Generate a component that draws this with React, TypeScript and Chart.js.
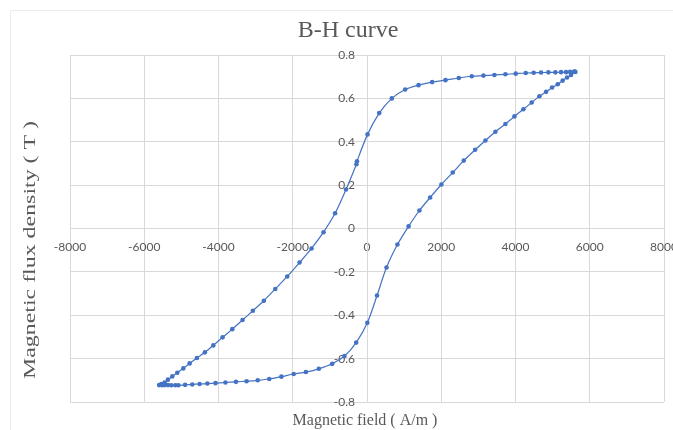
import React, { useEffect, useRef } from "react";
import { Chart, registerables } from "chart.js";

Chart.register(...registerables);

const CHART_TITLE = "B-H curve";
const X_TITLE = "Magnetic field ( A/m )";
const Y_TITLE = "Magnetic flux density ( T )";

const xTicks = [-8000, -6000, -4000, -2000, 0, 2000, 4000, 6000, 8000];
const yTicks = [-0.8, -0.6, -0.4, -0.2, 0, 0.2, 0.4, 0.6, 0.8];

// Upper branch: from the positive tip back to the negative tip
const upperH = [5613, 5580, 5470, 5362, 5227, 5074, 4886, 4689, 4490, 4275, 4006, 3728, 3432, 3136, 2822, 2472, 2113, 1755, 1387, 1028, 668, 330, 15, -270, -285, -565, -860, -1171, -1494, -1817, -2148, -2471, -2778, -3074, -3352, -3629, -3890, -4140, -4366, -4582, -4778, -4948, -5110, -5245, -5362, -5451, -5540, -5600];
const upperB = [0.722, 0.723, 0.722, 0.721, 0.721, 0.72, 0.72, 0.719, 0.718, 0.717, 0.714, 0.711, 0.708, 0.705, 0.702, 0.694, 0.684, 0.675, 0.661, 0.641, 0.6, 0.532, 0.434, 0.31, 0.296, 0.18, 0.07, -0.017, -0.092, -0.157, -0.221, -0.279, -0.333, -0.379, -0.422, -0.464, -0.502, -0.539, -0.571, -0.597, -0.622, -0.645, -0.665, -0.682, -0.697, -0.71, -0.717, -0.722];

// Lower branch: from the negative tip up to the positive tip
const lowerH = [-5520, -5451, -5362, -5271, -5163, -5080, -4900, -4706, -4509, -4300, -4080, -3813, -3530, -3244, -2944, -2634, -2306, -1975, -1646, -1297, -937, -606, -291, 9, 270, 525, 820, 1120, 1413, 1701, 2003, 2310, 2606, 2913, 3190, 3459, 3728, 3971, 4213, 4437, 4644, 4824, 4985, 5137, 5271, 5389, 5497, 5586];
const lowerB = [-0.723, -0.722, -0.722, -0.723, -0.723, -0.723, -0.721, -0.719, -0.717, -0.715, -0.713, -0.71, -0.707, -0.704, -0.7, -0.694, -0.683, -0.671, -0.662, -0.647, -0.624, -0.588, -0.526, -0.435, -0.309, -0.18, -0.074, 0.01, 0.083, 0.143, 0.203, 0.258, 0.313, 0.363, 0.406, 0.446, 0.482, 0.517, 0.55, 0.581, 0.61, 0.63, 0.65, 0.665, 0.682, 0.696, 0.708, 0.7235];

const TEXT_COLOR = "#595959";
const GRID_COLOR = "#d9d9d9";
const SERIES_COLOR = "#4472C4";
const TICK_FONT = '12px "Lato"';

const formatY = (v: number) => String(Math.round(v * 10) / 10);

const textPlugin = {
  id: "bhText",
  beforeDraw(chart: any) {
    const ctx = chart.ctx;
    ctx.save();
    ctx.fillStyle = "#ffffff";
    ctx.fillRect(0, 0, chart.width, chart.height);
    ctx.strokeStyle = "#ebebeb";
    ctx.lineWidth = 1;
    ctx.beginPath();
    ctx.moveTo(10.5, chart.height);
    ctx.lineTo(10.5, 10.5);
    ctx.lineTo(chart.width, 10.5);
    ctx.stroke();
    ctx.restore();
  },
  beforeDatasetsDraw(chart: any) {
    const ctx = chart.ctx;
    const xs = chart.scales.x;
    const ys = chart.scales.y;
    const axisX = xs.getPixelForValue(0);
    ctx.save();
    ctx.fillStyle = TEXT_COLOR;
    ctx.font = TICK_FONT;
    ctx.textAlign = "right";
    ctx.textBaseline = "middle";
    yTicks.forEach((v) => {
      ctx.fillText(formatY(v), axisX - 12, ys.getPixelForValue(v));
    });
    ctx.restore();
  },
  afterDraw(chart: any) {
    const ctx = chart.ctx;
    ctx.save();
    ctx.fillStyle = TEXT_COLOR;
    ctx.textAlign = "center";
    ctx.textBaseline = "alphabetic";
    ctx.font = '24px "Liberation Serif"';
    ctx.fillText(CHART_TITLE, 348, 37);
    ctx.font = '16px "Liberation Serif"';
    ctx.fillText(X_TITLE, 365, 425);
    ctx.translate(35, 250);
    ctx.rotate(-Math.PI / 2);
    const w = ctx.measureText(Y_TITLE).width;
    ctx.scale(258 / w, 1);
    ctx.fillText(Y_TITLE, 0, 0);
    ctx.restore();
  },
};

export default function App() {
  const ref = useRef<HTMLCanvasElement>(null);
  useEffect(() => {
    const points = [
      ...upperH.map((h, i) => ({ x: h, y: upperB[i] })),
      ...lowerH.map((h, i) => ({ x: h, y: lowerB[i] })),
    ];
    const chart = new Chart(ref.current as HTMLCanvasElement, {
      type: "scatter",
      data: {
        datasets: [
          {
            data: points,
            showLine: true,
            borderColor: SERIES_COLOR,
            borderWidth: 1.2,
            backgroundColor: SERIES_COLOR,
            pointBackgroundColor: SERIES_COLOR,
            pointBorderWidth: 0,
            pointRadius: 2.3,
            tension: 0.3,
          },
        ],
      },
      options: {
        responsive: false,
        animation: false,
        devicePixelRatio: 1,
        layout: { padding: { left: 70, right: 9, top: 55, bottom: 28 } },
        plugins: {
          legend: { display: false },
          title: { display: false },
          tooltip: { enabled: false },
        },
        scales: {
          x: {
            type: "linear",
            position: { y: 0 } as any,
            min: xTicks[0],
            max: xTicks[xTicks.length - 1],
            afterBuildTicks: (s: any) => {
              s.ticks = xTicks.map((v) => ({ value: v }));
            },
            afterFit: (s: any) => {
              s.paddingLeft = 0;
              s.paddingRight = 0;
            },
            grid: { color: GRID_COLOR, drawTicks: false, lineWidth: 1 },
            border: { color: GRID_COLOR },
            ticks: {
              padding: 11,
              color: TEXT_COLOR,
              font: { family: "Lato", size: 12 },
              autoSkip: false,
              maxRotation: 0,
              callback: (v: any) => String(v),
            },
          },
          y: {
            type: "linear",
            position: { x: 0 } as any,
            min: yTicks[0],
            max: yTicks[yTicks.length - 1],
            afterBuildTicks: (s: any) => {
              s.ticks = yTicks.map((v) => ({ value: v }));
            },
            afterFit: (s: any) => {
              s.paddingTop = 0;
              s.paddingBottom = 0;
            },
            grid: { color: GRID_COLOR, drawTicks: false, lineWidth: 1 },
            border: { color: GRID_COLOR },
            ticks: { display: false },
          },
        },
      },
      plugins: [textPlugin],
    });
    return () => chart.destroy();
  }, []);
  return (
    <div style={{ position: "fixed", left: 0, top: 0, width: 673, height: 430, background: "#fff" }}>
      <canvas ref={ref} width={673} height={430} style={{ display: "block" }} />
    </div>
  );
}
